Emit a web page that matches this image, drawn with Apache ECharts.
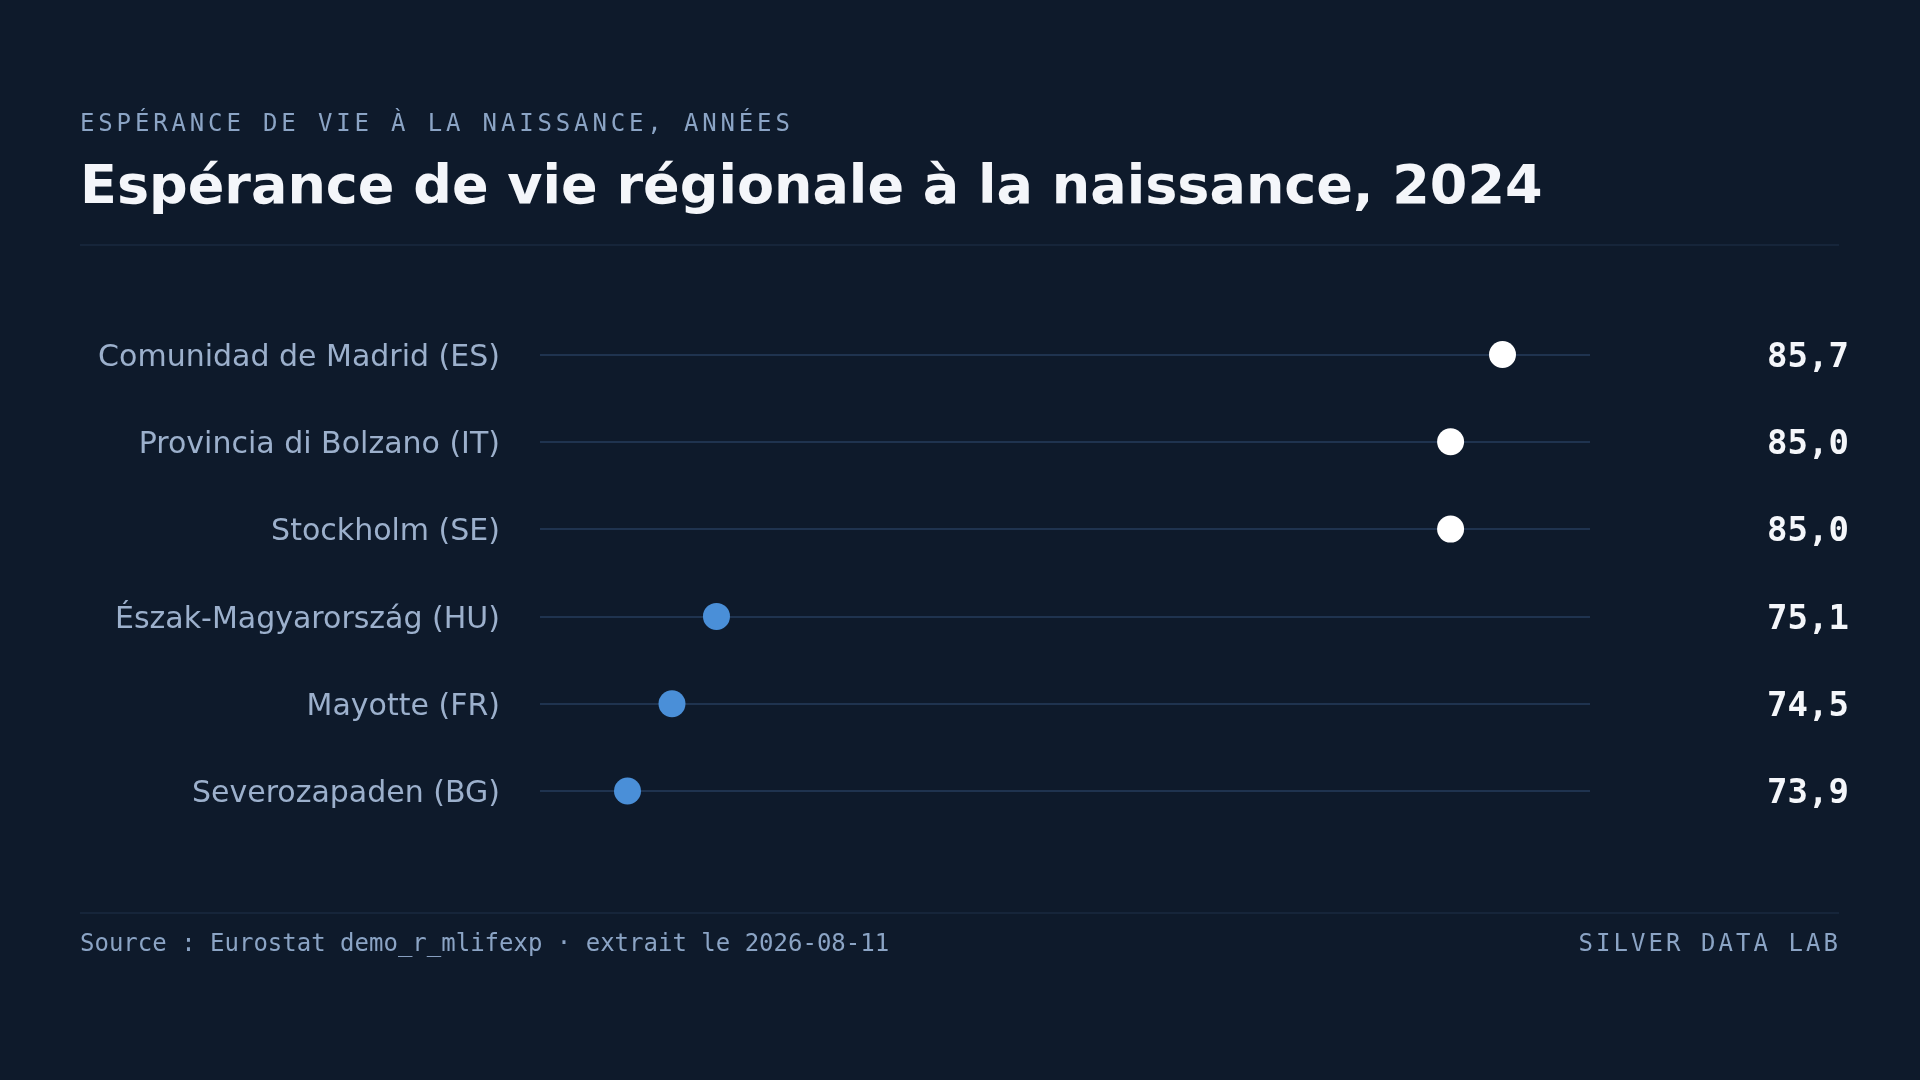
<!DOCTYPE html>
<html lang="fr">

<head>
    <meta charset="UTF-8">
    <title>Espérance de vie régionale</title>
    <style>
        * {
            margin: 0;
            padding: 0;
        }

        body {
            background: #0e1a2b;
        }

        #chart {
            width: 1920px;
            height: 1080px;
        }
    </style>
</head>

<body>
    <div id="chart"></div>

    <script src="https://cdn.jsdelivr.net/npm/echarts@6/dist/echarts.min.js"></script>
    <script>
        // data
        var regions = [
            'Comunidad de Madrid (ES)',
            'Provincia di Bolzano (IT)',
            'Stockholm (SE)',
            'Észak-Magyarország (HU)',
            'Mayotte (FR)',
            'Severozapaden (BG)'
        ];
        var lifeExp = [85.7, 85.0, 85.0, 75.1, 74.5, 73.9];
        var valueLabels = ['85,7', '85,0', '85,0', '75,1', '74,5', '73,9'];

        var bg = '#0e1a2b';
        var muted = '#8ba4c5';
        var white = '#f4f6fa';
        var blue = '#4a8fd8';

        var lo = Math.min.apply(null, lifeExp);
        var hi = Math.max.apply(null, lifeExp);
        var pad = (hi - lo) * 0.1;

        // monospace text with letter spacing, one glyph per element
        function spaced(str, x, y, size, pitch, align, color) {
            var chars = str.split('');
            var glyph = size * 0.602;
            var start = align === 'right' ? x - ((chars.length - 1) * pitch + glyph) : x;
            return chars.map(function (c, i) {
                return {
                    type: 'text',
                    style: {
                        text: c,
                        x: start + i * pitch,
                        y: y,
                        font: size + 'px "DejaVu Sans Mono"',
                        fill: color,
                        textAlign: 'left',
                        textVerticalAlign: 'middle'
                    }
                };
            });
        }

        var chart = echarts.init(document.getElementById('chart'));

        var graphics = []
            .concat(spaced('ESPÉRANCE DE VIE À LA NAISSANCE, ANNÉES', 80, 125, 24, 18.3, 'left', muted))
            .concat([
                {
                    type: 'text',
                    style: {
                        text: 'Espérance de vie régionale à la naissance, 2024',
                        x: 80, y: 189,
                        font: 'bold 54px "DejaVu Sans"',
                        fill: white,
                        textVerticalAlign: 'middle'
                    }
                },
                {
                    type: 'line',
                    shape: { x1: 80, y1: 245, x2: 1839, y2: 245 },
                    style: { stroke: '#1a2a40', lineWidth: 1.5 }
                },
                {
                    type: 'line',
                    shape: { x1: 80, y1: 913, x2: 1839, y2: 913 },
                    style: { stroke: '#1a2a40', lineWidth: 1.5 }
                },
                {
                    type: 'text',
                    style: {
                        text: 'Source : Eurostat demo_r_mlifexp · extrait le 2026-08-11',
                        x: 80, y: 945,
                        font: '24px "DejaVu Sans Mono"',
                        fill: muted,
                        textVerticalAlign: 'middle'
                    }
                }
            ])
            .concat(spaced('SILVER DATA LAB', 1838, 945, 24, 17.5, 'right', muted));

        var option = {
            backgroundColor: bg,
            animation: false,
            grid: [
                // plot area: rules and dots
                { left: 540, right: 330, top: 354.5, bottom: 289, containLabel: false },
                // label grid, nudged down so the text sits on the rules
                { left: 540, right: 330, top: 358, bottom: 285.5, containLabel: false }
            ],
            xAxis: [
                {
                    type: 'value',
                    gridIndex: 0,
                    min: lo - pad,
                    max: hi + pad,
                    show: false
                },
                {
                    type: 'value',
                    gridIndex: 1,
                    min: lo - pad,
                    max: hi + pad,
                    show: false
                }
            ],
            yAxis: [
                {
                    type: 'category',
                    gridIndex: 0,
                    data: regions,
                    inverse: true,
                    boundaryGap: false,
                    axisLine: { show: false },
                    axisTick: { show: false },
                    axisLabel: { show: false },
                    splitLine: {
                        show: true,
                        lineStyle: { color: '#263d5c', width: 1.5 }
                    }
                },
                {
                    type: 'category',
                    gridIndex: 1,
                    data: regions,
                    inverse: true,
                    boundaryGap: false,
                    axisLine: { show: false },
                    axisTick: { show: false },
                    axisLabel: {
                        color: '#9cb0cc',
                        fontSize: 30,
                        fontFamily: 'DejaVu Sans',
                        margin: 40
                    },
                    splitLine: { show: false }
                },
                {
                    type: 'category',
                    gridIndex: 1,
                    data: valueLabels,
                    position: 'right',
                    inverse: true,
                    boundaryGap: false,
                    axisLine: { show: false },
                    axisTick: { show: false },
                    axisLabel: {
                        color: white,
                        fontSize: 34,
                        fontWeight: 'bold',
                        fontFamily: 'DejaVu Sans Mono',
                        align: 'right',
                        margin: 259
                    },
                    splitLine: { show: false }
                }
            ],
            series: [
                {
                    type: 'scatter',
                    xAxisIndex: 0,
                    yAxisIndex: 0,
                    data: lifeExp,
                    symbolSize: 27,
                    itemStyle: {
                        opacity: 1,
                        color: function (p) {
                            return p.value >= 80 ? '#ffffff' : blue;
                        }
                    },
                    z: 5
                }
            ],
            graphic: graphics
        };

        chart.setOption(option);
    </script>
</body>

</html>
